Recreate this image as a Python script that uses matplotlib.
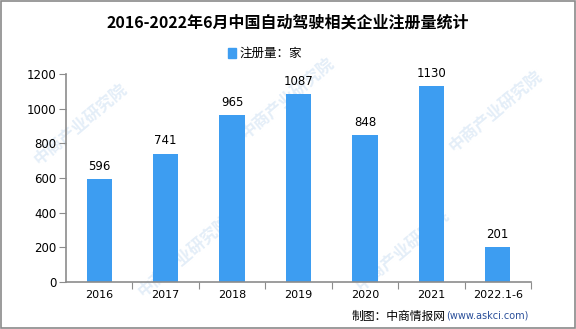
import matplotlib
matplotlib.use("Agg")
import matplotlib.pyplot as plt
from matplotlib.patches import Rectangle

plt.rcParams['font.family'] = ['Noto Sans CJK SC', 'DejaVu Sans']

# registrations per year (家)
years = ["2016", "2017", "2018", "2019", "2020", "2021", "2022.1-6"]
counts = [596, 741, 965, 1087, 848, 1130, 201]
yticks = [0, 200, 400, 600, 800, 1000, 1200]

BAR = "#3d9df1"
AXIS = "#8c8c8c"

fig = plt.figure(figsize=(5.76, 3.29), dpi=100)
ax = fig.add_axes([66 / 576, 1 - 282 / 329, 465 / 576, 208 / 329])

# faint diagonal watermark text, drawn under the axes
marks = [(0.14, 0.62), (0.50, 0.70), (0.86, 0.66),
         (0.32, 0.22), (0.70, 0.24)]
for mx, my in marks:
    fig.text(mx, my, "中商产业研究院", rotation=40, fontsize=12,
             color="#e4eef8", ha="center", va="center", fontweight="bold",
             zorder=-1)

x = range(len(years))
ax.bar(x, counts, width=0.38, color=BAR, zorder=2)
for xi, v in zip(x, counts):
    ax.text(xi, v + 35, str(v), ha="center", va="bottom", fontsize=8.5,
            family="DejaVu Sans")

ax.set_xlim(-0.5, len(years) - 0.5)
ax.set_ylim(0, 1200)
ax.set_yticks(yticks)
ax.set_yticklabels([str(t) for t in yticks], family="DejaVu Sans", fontsize=8.5)
ax.set_xticks([i + 0.5 for i in range(len(years))])
ax.set_xticklabels([])
ax.set_xticks(list(x), minor=True)
ax.set_xticklabels(years, minor=True, family="DejaVu Sans", fontsize=8)
ax.tick_params(axis="x", which="minor", length=0, pad=6)
ax.tick_params(axis="x", which="major", length=5, color=AXIS, direction="out")
ax.tick_params(axis="y", length=5, color=AXIS, direction="out", pad=2)

for s in ("top", "right"):
    ax.spines[s].set_visible(False)
for s in ("left", "bottom"):
    ax.spines[s].set_color(AXIS)
    ax.spines[s].set_linewidth(1.2)
ax.patch.set_alpha(0)

fig.text(0.5, 1 - 22 / 329, "2016-2022年6月中国自动驾驶相关企业注册量统计",
         ha="center", va="center", fontsize=11.5, fontweight="bold")

# legend
fig.patches.append(Rectangle((228 / 576, 1 - 58 / 329), 8 / 576, 10 / 329,
                             transform=fig.transFigure, color=BAR))
fig.text(239 / 576, 1 - 53 / 329, "注册量：家", ha="left", va="center",
         fontsize=9)

# source line
t = fig.text(352 / 576, 1 - 316 / 329, "制图：中商情报网", ha="left",
             va="center", fontsize=8.5)
fig.canvas.draw()
bb = t.get_window_extent().transformed(fig.transFigure.inverted())
fig.text(bb.x1, 1 - 316 / 329, "(www.askci.com)", ha="left", va="center",
         fontsize=7, color="#2a4f9a", family="DejaVu Sans")

# outer frame
fig.patches.append(Rectangle((0.002, 0.003), 0.996, 0.994,
                             transform=fig.transFigure, fill=False,
                             edgecolor="#8a8a8a", linewidth=1.2))

fig.savefig("out.png", dpi=100)
